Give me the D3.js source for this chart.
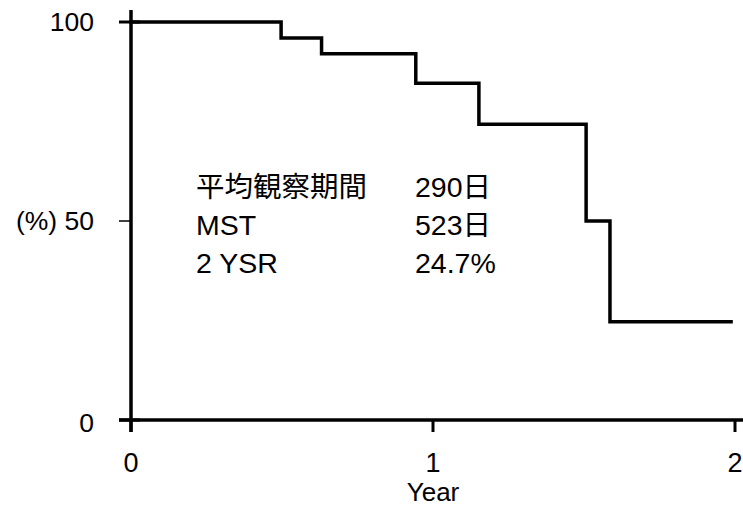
<!DOCTYPE html>
<html>
<head>
<meta charset="utf-8">
<script src="https://cdn.jsdelivr.net/npm/d3@7"></script>
<style>
  html, body { margin: 0; padding: 0; background: #fff; }
  svg { display: block; }
  text { font-family: "Liberation Sans", Arial, "Noto Sans CJK JP", sans-serif; fill: #000; }
</style>
</head>
<body>
<svg id="chart" width="743" height="508"></svg>
<script>
// Kaplan-Meier survival steps: event times (years) and survival (%)
const stepTimes = [0, 0.497, 0.631, 0.943, 1.152, 1.507, 1.586];
const stepSurvival = [100, 96, 92, 84.6, 74.3, 50, 24.7];
const followUpEnd = 1.987;

const xTicks = [0, 1, 2];
const yTicks = [0, 50, 100];
const yTickLabels = ["0", "(%) 50", "100"];

const statLabels = ["平均観察期間", "MST", "2 YSR"];
const statValues = ["290日", "523日", "24.7%"];

const svg = d3.select("#chart");
const x = d3.scaleLinear().domain([0, 2]).range([131, 735]);
const y = d3.scaleLinear().domain([0, 100]).range([420, 22]);

// survival curve
const pts = stepTimes.map((t, i) => [t, stepSurvival[i]]);
pts.push([followUpEnd, stepSurvival[stepSurvival.length - 1]]);
const line = d3.line().x(d => x(d[0])).y(d => y(d[1])).curve(d3.curveStepAfter);
svg.append("path")
  .datum(pts)
  .attr("d", line)
  .attr("fill", "none")
  .attr("stroke", "#000")
  .attr("stroke-width", 3.5)
  .attr("stroke-linejoin", "miter")
  .attr("stroke-linecap", "square");

// axes
const axisG = svg.append("g");
axisG.append("line")
  .attr("x1", x(0)).attr("x2", x(0))
  .attr("y1", 10).attr("y2", y(0) + 12)
  .attr("stroke", "#000").attr("stroke-width", 3.5);
axisG.append("line")
  .attr("x1", x(0) - 12).attr("x2", 743)
  .attr("y1", y(0)).attr("y2", y(0))
  .attr("stroke", "#000").attr("stroke-width", 3.5);

// y ticks
yTicks.forEach((v, i) => {
  const major = v !== 50;
  axisG.append("line")
    .attr("x1", x(0) - 12).attr("x2", major ? x(0) + 9 : x(0))
    .attr("y1", y(v)).attr("y2", y(v))
    .attr("stroke", "#000").attr("stroke-width", major ? 3 : 1.5);
  axisG.append("text")
    .attr("x", 94).attr("y", y(v) + 9 + (v === 0 ? 3 : 0))
    .attr("text-anchor", "end")
    .attr("font-size", 26.5)
    .text(yTickLabels[i]);
});

// x ticks
xTicks.forEach(v => {
  axisG.append("line")
    .attr("x1", x(v)).attr("x2", x(v))
    .attr("y1", y(0)).attr("y2", y(0) + 12)
    .attr("stroke", "#000").attr("stroke-width", 3);
  axisG.append("text")
    .attr("x", x(v)).attr("y", 472)
    .attr("text-anchor", "middle")
    .attr("font-size", 27)
    .text(v);
});

svg.append("text")
  .attr("x", x(1)).attr("y", 501)
  .attr("text-anchor", "middle")
  .attr("font-size", 26)
  .text("Year");

// summary statistics
const statG = svg.append("g");
statLabels.forEach((s, i) => {
  statG.append("text")
    .attr("x", 196).attr("y", 197 + i * 38)
    .attr("font-size", 28.5)
    .text(s);
  statG.append("text")
    .attr("x", 415).attr("y", 197 + i * 38)
    .attr("font-size", 28.5)
    .text(statValues[i]);
});
</script>
</body>
</html>
